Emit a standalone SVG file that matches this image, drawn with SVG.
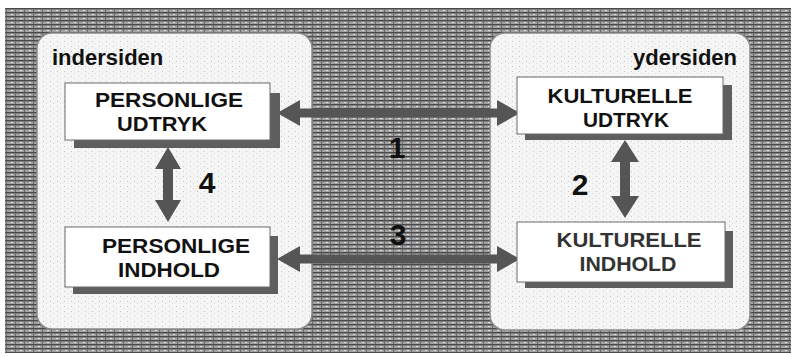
<svg xmlns="http://www.w3.org/2000/svg" width="793" height="357" viewBox="0 0 793 357">
<defs>
<pattern id="paper" width="9" height="4" patternUnits="userSpaceOnUse">
<rect width="9" height="4" fill="#a2a2a2"/>
<rect y="0" width="9" height="1.4" fill="#4a4a4a"/>
<rect x="2" y="2" width="2" height="1" fill="#e0e0e0"/>
<rect x="6" y="1.4" width="1" height="2.6" fill="#6a6a6a"/>
</pattern>
<pattern id="dots" width="7" height="5" patternUnits="userSpaceOnUse">
<rect width="7" height="5" fill="#f5f5f5"/>
<rect x="1" y="1" width="1" height="1" fill="#c8c8c8"/>
<rect x="4" y="3" width="1" height="1" fill="#dadada"/>
</pattern>
</defs>
<style>
.panel{fill:url(#dots);stroke:#8a8a8a;stroke-width:1.5}
.box{fill:#ffffff;stroke:#6a6a6a;stroke-width:1}
.shadow{fill:#5e5e5e}
.lbl{font-family:"Liberation Sans",Arial,sans-serif;font-weight:bold;font-size:21px;fill:#111;text-anchor:middle}
.side{font-family:"Liberation Sans",Arial,sans-serif;font-weight:bold;font-size:22px;fill:#111}
.num{font-family:"Liberation Sans",Arial,sans-serif;font-weight:bold;font-size:30px;fill:#111;text-anchor:middle}
.arrow{fill:#555555}
</style>
<rect x="5" y="8" width="786" height="345" fill="url(#paper)"/>
<g id="panel-indersiden">
<rect class="panel" x="37" y="33" width="275" height="296" rx="15"/>
<text class="side" x="52" y="65">indersiden</text>
</g>
<g id="panel-ydersiden">
<rect class="panel" x="490" y="33" width="260" height="297" rx="15"/>
<text class="side" x="737" y="65" text-anchor="end">ydersiden</text>
</g>
<g id="connectors">
<polygon class="arrow" points="277,113 300,100 300,108.5 497,108.5 497,100 520,113 497,126 497,117.5 300,117.5 300,126"/>
<polygon class="arrow" points="277,259 300,246 300,254.5 497,254.5 497,246 520,259 497,272 497,263.5 300,263.5 300,272"/>
<polygon class="arrow" points="168,147 181,169 173,169 173,200 181,200 168,222 155,200 163,200 163,169 155,169"/>
<polygon class="arrow" points="625,140 639,162 630,162 630,196 639,196 625,218 611,196 620,196 620,162 611,162"/>
<text class="num" x="397" y="158">1</text>
<text class="num" x="580" y="195">2</text>
<text class="num" x="398" y="245">3</text>
<text class="num" x="207" y="193">4</text>
</g>
<g id="node-personlige-udtryk">
<rect class="shadow" x="74" y="93" width="206" height="55"/>
<rect class="box" x="65" y="83" width="205" height="57"/>
<text class="lbl" x="169" y="107" textLength="148" lengthAdjust="spacingAndGlyphs">PERSONLIGE</text>
<text class="lbl" x="162" y="130.5" textLength="90" lengthAdjust="spacingAndGlyphs">UDTRYK</text>
</g>
<g id="node-kulturelle-udtryk">
<rect class="shadow" x="525" y="85" width="207" height="55"/>
<rect class="box" x="517" y="77" width="206" height="57"/>
<text class="lbl" x="620" y="103" textLength="145" lengthAdjust="spacingAndGlyphs">KULTURELLE</text>
<text class="lbl" x="626" y="126.5" textLength="86" lengthAdjust="spacingAndGlyphs">UDTRYK</text>
</g>
<g id="node-personlige-indhold">
<rect class="shadow" x="73" y="236" width="205" height="58"/>
<rect class="box" x="65" y="227" width="205" height="60"/>
<text class="lbl" x="176" y="253" textLength="148" lengthAdjust="spacingAndGlyphs">PERSONLIGE</text>
<text class="lbl" x="169" y="276.5" textLength="102" lengthAdjust="spacingAndGlyphs">INDHOLD</text>
</g>
<g id="node-kulturelle-indhold">
<rect class="shadow" x="525" y="231" width="208" height="57"/>
<rect class="box" x="517" y="222" width="208" height="60"/>
<text class="lbl" x="629" y="247" style="fill:#333" textLength="145" lengthAdjust="spacingAndGlyphs">KULTURELLE</text>
<text class="lbl" x="628" y="270.5" style="fill:#333" textLength="97" lengthAdjust="spacingAndGlyphs">INDHOLD</text>
</g>
</svg>
